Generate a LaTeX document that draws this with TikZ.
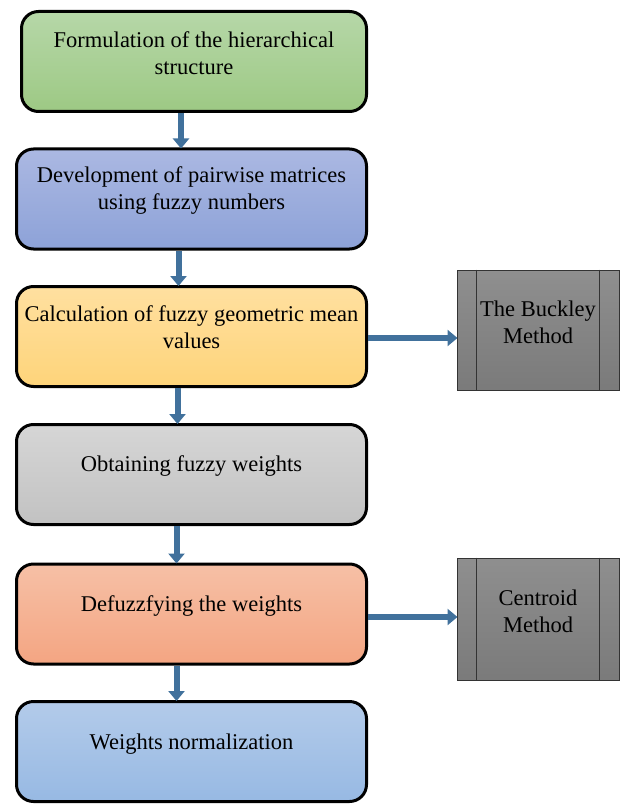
\documentclass[tikz,border=0pt]{standalone}
\usepackage{fontspec}
\setmainfont{Liberation Serif}
\usetikzlibrary{arrows.meta}

\definecolor{flowblue}{HTML}{41719C}
\tikzset{
  stepbox/.style={draw=black, line width=3pt, rounded corners=17pt,
    minimum width=350pt, minimum height=100pt, shading=axis},
  steptext/.style={align=center, font=\fontsize{22.5}{27}\selectfont},
  methodbox/.style={draw=black!80, line width=1pt, top color=black!44,
    bottom color=black!52, minimum width=162pt, minimum height=120pt},
  flow/.style={draw=flowblue, line width=6pt,
    -{Triangle[width=16pt,length=10pt]}, shorten >=-1pt}
}

\begin{document}
\begin{tikzpicture}[x=1pt,y=-1pt]
    \useasboundingbox (0,0) rectangle (623,805);

    % Main steps
    \node[stepbox, minimum width=345pt, top color={rgb,255:red,182;green,215;blue,168},
          bottom color={rgb,255:red,157;green,201;blue,132}] (s1) at (194,61.5) {};
    \node[stepbox, top color={rgb,255:red,171;green,184;blue,226},
          bottom color={rgb,255:red,141;green,162;blue,216}] (s2) at (191.5,199) {};
    \node[stepbox, top color={rgb,255:red,255;green,224;blue,160},
          bottom color={rgb,255:red,254;green,212;blue,122}] (s3) at (191.5,336.5) {};
    \node[stepbox, top color={rgb,255:red,214;green,214;blue,214},
          bottom color={rgb,255:red,194;green,194;blue,194}] (s4) at (191.5,474.5) {};
    \node[stepbox, top color={rgb,255:red,246;green,192;blue,166},
          bottom color={rgb,255:red,244;green,165;blue,130}] (s5) at (191.5,614) {};
    \node[stepbox, top color={rgb,255:red,179;green,203;blue,234},
          bottom color={rgb,255:red,151;green,185;blue,227}] (s6) at (191.5,751.5) {};

    \node[steptext] (t1) at ([yshift=8pt]s1.center) {Formulation of the hierarchical\\structure};
    \node[steptext] (t2) at ([yshift=8pt]s2.center) {Development of pairwise matrices\\using fuzzy numbers};
    \node[steptext] (t3) at ([yshift=9pt]s3.center) {Calculation of fuzzy geometric mean\\values};
    \node[steptext] (t4) at ([yshift=8pt]s4.center) {Obtaining fuzzy weights};
    \node[steptext] (t5) at ([yshift=8pt]s5.center) {Defuzzfying the weights};
    \node[steptext] (t6) at ([yshift=7pt]s6.center) {Weights normalization};

    % Methods
    \node[methodbox] (m1) at (538,330) {};
    \node[methodbox, minimum height=122pt] (m2) at (538,619) {};
    \foreach \m in {m1,m2} {
        \draw[black!80] ([xshift=20pt]\m.north west) -- ([xshift=20pt]\m.south west);
        \draw[black!80] ([xshift=-20pt]\m.north east) -- ([xshift=-20pt]\m.south east);
    }
    \node[steptext] (mt1) at ([yshift=8pt]m1.center) {The Buckley\\Method};
    \node[steptext] (mt2) at ([yshift=8pt]m2.center) {Centroid\\Method};

    % Arrows
    \draw[flow] ([xshift=-13pt]s1.south) -- ([xshift=-13pt]s1.south |- s2.north);
    \draw[flow] ([xshift=-13pt]s2.south) -- ([xshift=-13pt]s2.south |- s3.north);
    \draw[flow] ([xshift=-14pt]s3.south) -- ([xshift=-14pt]s3.south |- s4.north);
    \draw[flow] ([xshift=-15pt]s4.south) -- ([xshift=-15pt]s4.south |- s5.north);
    \draw[flow] ([xshift=-15pt]s5.south) -- ([xshift=-15pt]s5.south |- s6.north);
    \draw[flow] ([yshift=-1.5pt]s3.east) -- ([yshift=-1.5pt]s3.east -| m1.west);
    \draw[flow] ([yshift=-3pt]s5.east) -- ([yshift=-3pt]s5.east -| m2.west);
\end{tikzpicture}
\end{document}
